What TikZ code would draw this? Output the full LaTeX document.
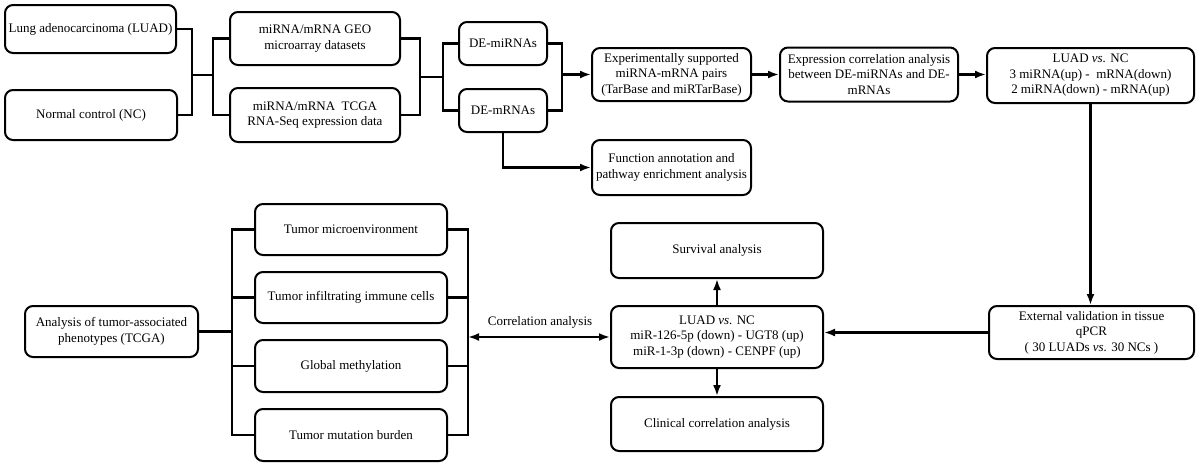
\documentclass[tikz,border=0pt]{standalone}
\usepackage{fontspec}
\setmainfont{Liberation Serif}
\usetikzlibrary{arrows.meta}
\begin{document}
\begin{tikzpicture}[x=1pt,y=1pt,
  every node/.style={font=\fontsize{13}{15.5}\selectfont},
  box/.style={draw,line width=2pt,rounded corners=8pt,align=center,inner sep=1pt},
  conn/.style={line width=2.2pt},
  arr/.style={line width=2.2pt,-{Latex[length=11pt,width=8pt]}},
  darr/.style={line width=2.2pt,{Latex[length=11pt,width=8pt]}-{Latex[length=11pt,width=8pt]}}]
\useasboundingbox (0,0) rectangle (1200,-467);
% boxes
\node[box,minimum width=171pt,minimum height=48pt] (luad) at (90.5,-29) {Lung adenocarcinoma (LUAD)};
\node[box,minimum width=172pt,minimum height=50pt] (nc) at (91,-115) {Normal control (NC)};
\node[box,minimum width=170pt,minimum height=53pt] (geo) at (315,-38.5) {miRNA/mRNA GEO\\microarray datasets};
\node[box,minimum width=170pt,minimum height=54pt] (tcga) at (315,-115) {miRNA/mRNA~~TCGA\\RNA-Seq expression data};
\node[box,minimum width=88pt,minimum height=43pt] (demi) at (503,-43.5) {DE-miRNAs};
\node[box,minimum width=88pt,minimum height=43pt] (dem) at (503,-110.5) {DE-mRNAs};
\node[box,minimum width=159pt,minimum height=53pt] (exp) at (671.5,-74.5) {Experimentally supported\\miRNA-mRNA pairs\\(TarBase and miRTarBase)};
\node[box,minimum width=159pt,minimum height=55pt] (func) at (671.5,-167.5) {Function annotation and\\pathway enrichment analysis};
\node[box,minimum width=178pt,minimum height=54pt] (corr) at (869,-74.5) {Expression correlation analysis\\between DE-miRNAs and DE-\\mRNAs};
\node[box,minimum width=207pt,minimum height=55pt] (res) at (1090.5,-75.5) {LUAD \textit{vs.} NC\\3 miRNA(up) -~~mRNA(down)\\2 miRNA(down) - mRNA(up)};
\node[box,minimum width=205pt,minimum height=53pt] (ext) at (1091.5,-332.5) {External validation in tissue\\qPCR\\( 30 LUADs \textit{vs.} 30 NCs )};
\node[box,minimum width=212pt,minimum height=62pt] (cen) at (717,-337) {LUAD \textit{vs.} NC\\miR-126-5p (down) - UGT8 (up)\\miR-1-3p (down) - CENPF (up)};
\node[box,minimum width=212pt,minimum height=55pt] (surv) at (717,-250.5) {Survival analysis};
\node[box,minimum width=212pt,minimum height=54pt] (clin) at (717,-424) {Clinical correlation analysis};
\node[box,minimum width=173pt,minimum height=51pt] (ana) at (111.5,-331.5) {Analysis of tumor-associated\\phenotypes (TCGA)};
\node[box,minimum width=192pt,minimum height=51pt] (tme) at (351,-229.5) {Tumor microenvironment};
\node[box,minimum width=192pt,minimum height=51pt] (tic) at (351,-297.5) {Tumor infiltrating immune cells};
\node[box,minimum width=192pt,minimum height=52pt] (gm) at (351,-366) {Global methylation};
\node[box,minimum width=192pt,minimum height=52pt] (tmb) at (351,-435) {Tumor mutation burden};
% brackets top row
\coordinate (j1) at (192,-75);
\coordinate (j2) at (213,-75);
\draw[conn] (luad.east) -| (j1) |- (nc.east);
\draw[conn] (j1) -- (j2);
\draw[conn] (geo.west) -| (j2) |- (tcga.west);
\coordinate (j3) at (420,-77);
\coordinate (j4) at (443,-77);
\draw[conn] (geo.east) -| (j3) |- (tcga.east);
\draw[conn] (j3) -- (j4);
\draw[conn] (demi.west) -| (j4) |- (dem.west);
\coordinate (j5) at (562,-74.5);
\draw[conn] (demi.east) -| (j5) |- (dem.east);
\draw[arr] (j5) -- (exp.west);
\draw[arr] (exp.east) -- (exp.east -| corr.west);
\draw[arr] (corr.east) -- (corr.east -| res.west);
\draw[arr] (dem.south) |- (func.west);
\draw[arr] (res.south) -- (res.south |- ext.north);
\draw[arr] (ext.west) -- (ext.west -| cen.east);
\draw[arr] (cen.north) -- (surv.south);
\draw[arr] (cen.south) -- (clin.north);
% left brackets
\coordinate (k1) at (232,-331.5);
\draw[conn] (ana.east) -- (k1);
\draw[conn] (tme.west) -| (k1) |- (tmb.west);
\draw[conn] (tic.west) -- (tic.west -| k1);
\draw[conn] (gm.west) -- (gm.west -| k1);
\coordinate (k2) at (468,-337);
\draw[conn] (tme.east) -| (k2) |- (tmb.east);
\draw[conn] (tic.east) -- (tic.east -| k2);
\draw[conn] (gm.east) -- (gm.east -| k2);
\draw[darr] (k2) -- (cen.west);
\node (cl) at (540,-322) {Correlation analysis};
\end{tikzpicture}
\end{document}
